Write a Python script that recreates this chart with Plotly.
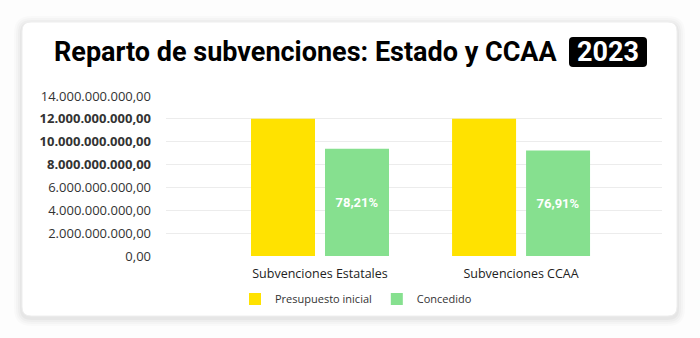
import plotly.graph_objects as go

categories = ["Subvenciones Estatales", "Subvenciones CCAA"]
presupuesto = [12_000_000_000, 12_000_000_000]
concedido = [9_385_200_000, 9_229_200_000]
porcentajes = ["<b>78,21%</b>", "<b>76,91%</b>"]
tick_vals = [0, 2e9, 4e9, 6e9, 8e9, 10e9, 12e9, 14e9]
tick_text = ["0,00", "2.000.000.000,00", "4.000.000.000,00", "6.000.000.000,00",
             "<b>8.000.000.000,00</b>", "<b>10.000.000.000,00</b>",
             "<b>12.000.000.000,00</b>", "14.000.000.000,00"]
title_text = "Reparto de subvenciones: Estado y CCAA"
title_year = "2023"

W, H = 700, 338
L, R, T, B = 166, 38, 96, 82
PW, PH = W - L - R, H - T - B


def px(x):
    return (x - L) / PW


def py(y):
    return (H - B - y) / PH


def rrect(x0, y0, x1, y1, r):
    # rounded rectangle in pixel coords -> paper path
    rx, ry = r / PW, r / PH
    a0, a1 = px(x0), px(x1)
    b0, b1 = py(y1), py(y0)  # bottom, top
    return (f"M{a0+rx},{b1} L{a1-rx},{b1} Q{a1},{b1} {a1},{b1-ry} "
            f"L{a1},{b0+ry} Q{a1},{b0} {a1-rx},{b0} L{a0+rx},{b0} "
            f"Q{a0},{b0} {a0},{b0+ry} L{a0},{b1-ry} Q{a0},{b1} {a0+rx},{b1} Z")


fig = go.Figure()
fig.add_trace(go.Bar(
    name="Presupuesto inicial", x=[0, 1], y=presupuesto,
    marker=dict(color="#FFE200", line=dict(width=0)),
))
fig.add_trace(go.Bar(
    name="Concedido", x=[0, 1], y=concedido, text=porcentajes,
    textposition="inside", insidetextanchor="middle",
    textfont=dict(color="white", size=13, family="Roboto"),
    marker=dict(color="#86E08F", line=dict(width=0)),
))

shapes = []
# shadow layers
for i, op in [(8, 0.015), (6, 0.02), (4, 0.025), (2, 0.03)]:
    shapes.append(dict(type="path", xref="paper", yref="paper",
                       path=rrect(22 - i, 22 - i + 2, 677 + i, 316 + i + 2, 9 + i),
                       fillcolor=f"rgba(0,0,0,{op})", line=dict(width=0), layer="below"))
shapes.append(dict(type="path", xref="paper", yref="paper",
                   path=rrect(22, 22, 677, 316, 9),
                   fillcolor="white", line=dict(color="#eeeeee", width=1), layer="below"))
shapes.append(dict(type="path", xref="paper", yref="paper",
                   path=rrect(569, 37, 647, 67, 4),
                   fillcolor="black", line=dict(width=0), layer="above"))

annotations = [
    dict(text=f"<b>{title_text}</b>", xref="paper", yref="paper",
         x=px(559), y=py(52), xanchor="right", yanchor="middle", showarrow=False,
         font=dict(family="Roboto", size=27, color="black")),
    dict(text=f"<b>{title_year}</b>", xref="paper", yref="paper",
         x=px(608), y=py(52), xanchor="center", yanchor="middle", showarrow=False,
         font=dict(family="Roboto", size=27, color="white")),
]

fig.update_layout(
    width=W, height=H,
    margin=dict(l=L, r=R, t=T, b=B, pad=0),
    paper_bgcolor="#fdfdfd", plot_bgcolor="rgba(0,0,0,0)",
    barmode="group", bargap=0.264, bargroupgap=0.135,
    font=dict(family="Open Sans", color="#333333"),
    shapes=shapes, annotations=annotations,
    showlegend=True,
    legend=dict(orientation="h", x=px(356), y=py(299), xanchor="center", yanchor="middle",
                font=dict(size=11, color="#333333"), bgcolor="rgba(0,0,0,0)",
                itemwidth=30, traceorder="normal"),
    xaxis=dict(range=[-0.766, 1.701], tickvals=[0, 1], ticktext=categories,
               showgrid=False, zeroline=False, showline=False, ticks="",
               tickfont=dict(size=12.5, color="#222222"), ticklabelstandoff=8,
               fixedrange=True),
    yaxis=dict(range=[0, 14e9], tickvals=tick_vals, ticktext=tick_text,
               showgrid=True, gridcolor="#ececec", gridwidth=1,
               zeroline=False, showline=False, ticks="",
               tickfont=dict(size=13, color="#333333"), ticklabelstandoff=14,
               fixedrange=True),
)

fig.write_html("out.html")
